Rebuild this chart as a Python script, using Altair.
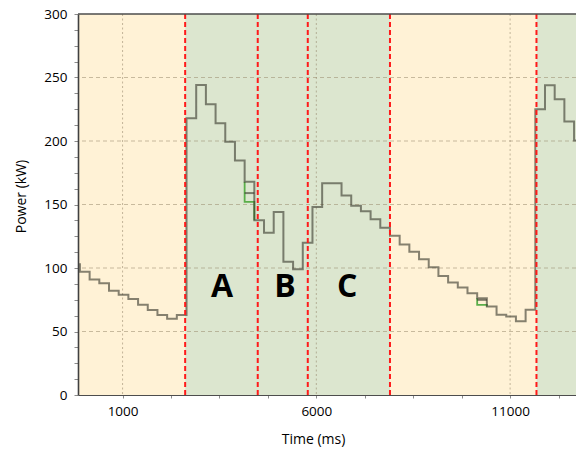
import altair as alt
import pandas as pd

# ---- data ----
# start time (ms) of each step of the power trace, and its value (kW)
step_time = [-150, -100, 150, 400, 650, 900, 1150, 1400, 1650, 1900, 2150, 2400,
             2650, 2900, 3150, 3400, 3650, 3900, 4150, 4400, 4650, 4900, 5150, 5400,
             5650, 5900, 6150, 6400, 6650, 6900, 7150, 7400, 7650, 7900, 8150, 8400,
             8650, 8900, 9150, 9400, 9650, 9900, 10150, 10400, 10650, 10900, 11150, 11400,
             11650, 11900, 12150, 12400, 12650, 12900, 13150]
power_grey = [103, 97, 91, 88, 82, 79, 75.5, 71, 67, 63, 60, 63,
              218, 244, 229, 214, 199.5, 184.6, 168, 137.6, 127.7, 144, 105, 99,
              119.8, 148, 166.8, 166.8, 157, 149, 144.7, 138.4, 131.6, 125.3, 118.5, 112.8,
              106.8, 100.5, 93.7, 88.5, 84.6, 80.1, 76.2, 69.7, 63.2, 61.9, 58, 67.1,
              225, 243.9, 232.9, 215.4, 200.3, 187, 187]

# short stretches where the other traces separate from the grey one
green_seg = ["g1", "g1", "g1", "g1", "g2", "g2", "g2", "g2"]
green_time = [4150, 4150, 4400, 4400, 10150, 10150, 10400, 10400]
green_power = [168, 152, 152, 137.6, 76.2, 71, 71, 69.7]
grey2_seg = ["h1", "h1", "h2", "h2"]
grey2_time = [4150, 4400, 10150, 10400]
grey2_power = [159, 159, 74.9, 74.9]

x_min, x_max = -150, 12700
y_min, y_max = 0, 300

# background phases
band_start = [x_min, 2615, 7900, 11680]
band_end = [2615, 7900, 11680, x_max]
band_kind = ["yellow", "green", "yellow", "green"]

# red dashed phase boundaries
boundary_time = [2615, 4488, 5779, 7900, 11680]

# letters
label_text = ["A", "B", "C"]
label_time = [3567, 5193, 6793]
label_power = [77, 77, 77]

x_ticks = [1000, 2250, 3500, 4750, 6000, 7250, 8500, 9750, 11000, 12250]
x_grid = [1000, 6000, 11000]
y_ticks = [0, 12.5, 25, 37.5, 50, 62.5, 75, 87.5, 100, 112.5, 125, 137.5, 150,
           162.5, 175, 187.5, 200, 212.5, 225, 237.5, 250, 262.5, 275, 287.5, 300]
y_grid = [50, 100, 150, 200, 250]
y_top = [300]

FONT = "Open Sans"

xscale = alt.Scale(domain=[x_min, x_max], nice=False, zero=False)
yscale = alt.Scale(domain=[y_min, y_max], nice=False)

xaxis = alt.Axis(values=x_ticks, grid=False, zindex=1,
                 labelExpr="(datum.value == 1000 || datum.value == 6000 || datum.value == 11000) ? datum.label : ''",
                 format="d", title="Time (ms)",
                 titleX=235, titleY=48, titleBaseline="alphabetic", titleAlign="center",
                 domainColor="#4d4d4d", domainWidth=1.2, tickSize=3, labelPadding=6,
                 tickColor="#8c8c8c", labelFont=FONT, labelFontSize=13.5, labelColor="#000000",
                 titleFont=FONT, titleFontSize=14, titleFontWeight="normal", titleColor="#000000")
yaxis = alt.Axis(values=y_ticks, grid=False, zindex=1,
                 labelExpr="(datum.value % 50 == 0) ? datum.label : ''",
                 title="Power (kW)",
                 titleX=-57, titleY=182, titleAngle=-90,
                 titleBaseline="middle", titleAlign="center",
                 domainColor="#404040", domainWidth=1.6, tickSize=4, labelPadding=7,
                 tickColor="#8c8c8c", labelFont=FONT, labelFontSize=13.5, labelColor="#000000",
                 titleFont=FONT, titleFontSize=14, titleFontWeight="normal", titleColor="#000000")


def X(field):
    return alt.X(field, scale=xscale, axis=xaxis)


def Y(field):
    return alt.Y(field, scale=yscale, axis=yaxis)


bands = pd.DataFrame({"start": band_start, "end": band_end, "kind": band_kind,
                      "lo": [y_min] * len(band_start), "hi": [y_max] * len(band_start)})
grey_df = pd.DataFrame({"t": step_time, "p": power_grey, "i": list(range(len(step_time)))})
green_df = pd.DataFrame({"t": green_time, "p": green_power, "seg": green_seg,
                         "i": list(range(len(green_time)))})
grey2_df = pd.DataFrame({"t": grey2_time, "p": grey2_power, "seg": grey2_seg,
                         "i": list(range(len(grey2_time)))})
bound_df = pd.DataFrame({"t": boundary_time, "lo": [y_min] * len(boundary_time),
                         "hi": [y_max] * len(boundary_time)})
lab_df = pd.DataFrame({"t": label_time, "p": label_power, "txt": label_text})
xg_df = pd.DataFrame({"t": x_grid})
yg_df = pd.DataFrame({"p": y_grid})
top_df = pd.DataFrame({"p": y_top})

band_layer = alt.Chart(bands).mark_rect().encode(
    x=X("start:Q"), x2="end:Q", y=Y("lo:Q"), y2="hi:Q",
    color=alt.Color("kind:N", scale=alt.Scale(domain=["yellow", "green"],
                                              range=["#fff2d6", "#dce6cf"]), legend=None),
)

ygrid_layer = alt.Chart(yg_df).mark_rule(color="#9a8c70", opacity=0.55,
                                         strokeDash=[4, 3], strokeWidth=1).encode(y=Y("p:Q"))
xgrid_layer = alt.Chart(xg_df).mark_rule(color="#9a8c70", opacity=0.6,
                                         strokeDash=[2, 2.5], strokeWidth=1).encode(x=X("t:Q"))

green_layer = alt.Chart(green_df).mark_line(interpolate="step-after", clip=True,
                                             color="#5aae4a", strokeWidth=1.8).encode(
    x=X("t:Q"), y=Y("p:Q"), detail="seg:N", order="i:Q")

grey_layer = alt.Chart(grey_df).mark_line(interpolate="step-after", clip=True,
                                           color="#3a3a2e", opacity=0.62, strokeWidth=2).encode(
    x=X("t:Q"), y=Y("p:Q"), order="i:Q")

grey2_layer = alt.Chart(grey2_df).mark_line(interpolate="step-after", clip=True,
                                             color="#3a3a2e", opacity=0.62, strokeWidth=2).encode(
    x=X("t:Q"), y=Y("p:Q"), detail="seg:N", order="i:Q")

red_layer = alt.Chart(bound_df).mark_rule(color="#ff1a1a", strokeDash=[5, 3],
                                          strokeWidth=2).encode(
    x=X("t:Q"), y=Y("lo:Q"), y2="hi:Q")

top_layer = alt.Chart(top_df).mark_rule(color="#4d4d4d", strokeWidth=1.4).encode(y=Y("p:Q"))

text_layer = alt.Chart(lab_df).mark_text(font=FONT, fontSize=32, fontWeight="bold",
                                         color="#000000", align="center",
                                         baseline="alphabetic").encode(
    x=X("t:Q"), y=Y("p:Q"), text="txt:N")

chart = alt.layer(
    band_layer, ygrid_layer, xgrid_layer, green_layer, grey_layer, grey2_layer,
    red_layer, top_layer, text_layer
).properties(
    width=498, height=381,
    padding={"left": 70, "top": 6, "right": 0, "bottom": 53},
    autosize=alt.AutoSizeParams(type="none"),
).configure_view(stroke=None)

chart.save("out.html", embed_options={"renderer": "svg", "actions": False})
